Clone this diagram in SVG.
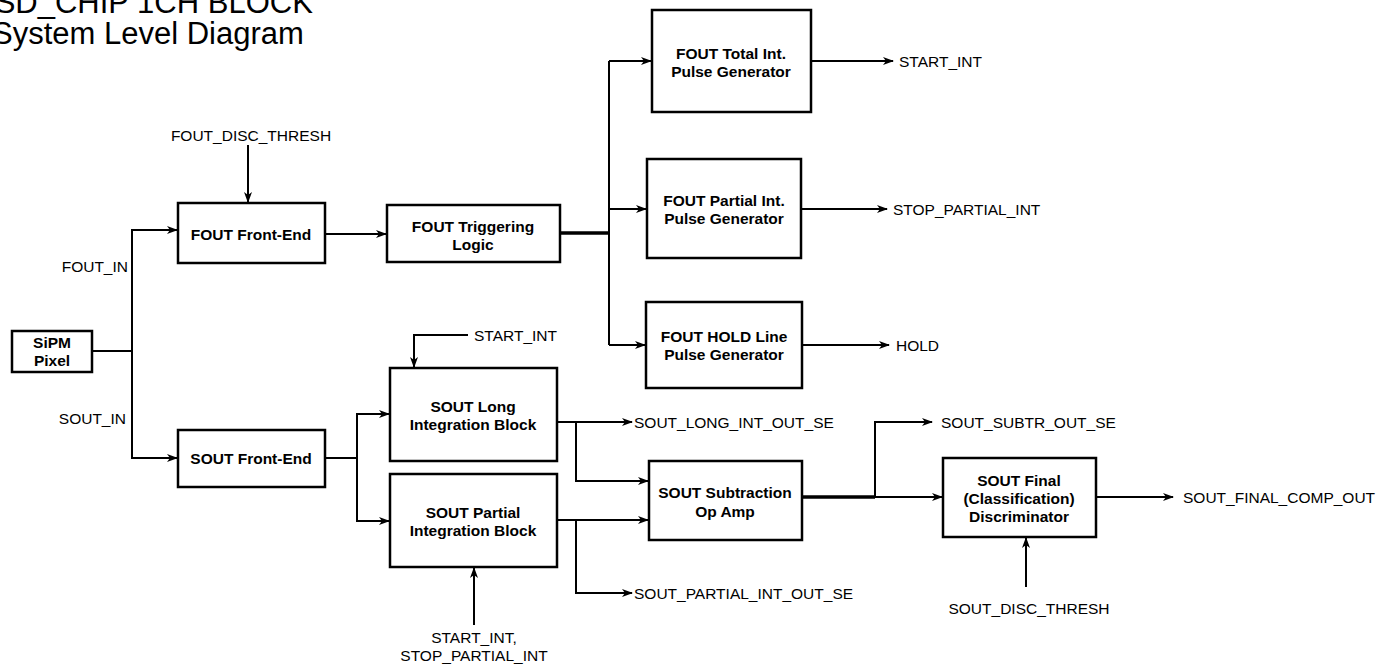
<svg xmlns="http://www.w3.org/2000/svg" width="1387" height="664" viewBox="0 0 1387 664">
<style>
.box{fill:#fff;stroke:#000;stroke-width:2.5}
.nt{font-family:"Liberation Sans",Arial,sans-serif;font-weight:bold;font-size:15.5px;text-anchor:middle;dominant-baseline:central;fill:#000}
.lb{font-family:"Liberation Sans",Arial,sans-serif;font-size:15.5px;dominant-baseline:central;fill:#000}
.ttl{font-family:"Liberation Sans",Arial,sans-serif;font-size:31px;fill:#000}
.c{fill:none;stroke:#000;stroke-width:2}
.thick{fill:none;stroke:#000;stroke-width:3.5}
</style>
<defs>
<marker id="arr" markerUnits="userSpaceOnUse" markerWidth="12" markerHeight="10" refX="10" refY="5" orient="auto">
<path d="M0,1 L11,5 L0,9 L3,5 z" fill="#000"/>
</marker>
</defs>
<rect width="1387" height="664" fill="#fff"/>
<g id="title">
<text class="ttl" x="-26" y="13">PSD_CHIP 1CH BLOCK</text>
<text class="ttl" x="-8" y="44">System Level Diagram</text>
</g>
<g id="connectors">
<path class="c" d="M92,351 H132 V230 H177" marker-end="url(#arr)"/>
<path class="c" d="M132,351 V458 H177" marker-end="url(#arr)"/>
<path class="c" d="M248,145 V202" marker-end="url(#arr)"/>
<path class="c" d="M325,234 H386" marker-end="url(#arr)"/>
<path class="thick" d="M560,233 H609"/>
<path class="c" d="M609,61 V345"/>
<path class="c" d="M609,61 H651" marker-end="url(#arr)"/>
<path class="c" d="M609,209 H646" marker-end="url(#arr)"/>
<path class="c" d="M609,345 H645" marker-end="url(#arr)"/>
<path class="c" d="M811,61 H893" marker-end="url(#arr)"/>
<path class="c" d="M801,209 H887" marker-end="url(#arr)"/>
<path class="c" d="M802,345 H889" marker-end="url(#arr)"/>
<path class="c" d="M325,458 H357 V414 H389" marker-end="url(#arr)"/>
<path class="c" d="M357,458 V521 H389" marker-end="url(#arr)"/>
<path class="c" d="M468,335 H414 V367" marker-end="url(#arr)"/>
<path class="c" d="M474,625 V568" marker-end="url(#arr)"/>
<path class="c" d="M557,422 H632" marker-end="url(#arr)"/>
<path class="c" d="M576,422 V481 H648" marker-end="url(#arr)"/>
<path class="c" d="M557,520 H648" marker-end="url(#arr)"/>
<path class="c" d="M576,520 V593 H632" marker-end="url(#arr)"/>
<path class="thick" d="M802,497 H875"/>
<path class="c" d="M875,497 H942" marker-end="url(#arr)"/>
<path class="c" d="M875,497 V422 H932" marker-end="url(#arr)"/>
<path class="c" d="M1096,497 H1173" marker-end="url(#arr)"/>
<path class="c" d="M1026,587 V538" marker-end="url(#arr)"/>
</g>
<g id="labels">
<text class="lb" x="128" y="266" text-anchor="end">FOUT_IN</text>
<text class="lb" x="126" y="418" text-anchor="end">SOUT_IN</text>
<text class="lb" x="251" y="135" text-anchor="middle">FOUT_DISC_THRESH</text>
<text class="lb" x="899" y="61">START_INT</text>
<text class="lb" x="893" y="209">STOP_PARTIAL_INT</text>
<text class="lb" x="896" y="345">HOLD</text>
<text class="lb" x="474" y="335">START_INT</text>
<text class="lb" x="474" y="637" text-anchor="middle">START_INT,</text>
<text class="lb" x="474" y="655" text-anchor="middle">STOP_PARTIAL_INT</text>
<text class="lb" x="634" y="422">SOUT_LONG_INT_OUT_SE</text>
<text class="lb" x="634" y="593">SOUT_PARTIAL_INT_OUT_SE</text>
<text class="lb" x="941" y="422">SOUT_SUBTR_OUT_SE</text>
<text class="lb" x="1183" y="497">SOUT_FINAL_COMP_OUT</text>
<text class="lb" x="1029" y="608" text-anchor="middle">SOUT_DISC_THRESH</text>
</g>
<g id="sipm">
<rect class="box" x="12" y="331" width="80" height="41"/>
<text class="nt" x="52" y="342">SiPM</text>
<text class="nt" x="52" y="360">Pixel</text>
</g>
<g id="fout-fe">
<rect class="box" x="178" y="203" width="147" height="60"/>
<text class="nt" x="251" y="234">FOUT Front-End</text>
</g>
<g id="fout-trig">
<rect class="box" x="387" y="205" width="173" height="57"/>
<text class="nt" x="473" y="226">FOUT Triggering</text>
<text class="nt" x="473" y="244">Logic</text>
</g>
<g id="fout-total">
<rect class="box" x="652" y="10" width="159" height="102"/>
<text class="nt" x="731" y="53">FOUT Total Int.</text>
<text class="nt" x="731" y="71">Pulse Generator</text>
</g>
<g id="fout-partial">
<rect class="box" x="647" y="159" width="154" height="99"/>
<text class="nt" x="724" y="200">FOUT Partial Int.</text>
<text class="nt" x="724" y="218">Pulse Generator</text>
</g>
<g id="fout-hold">
<rect class="box" x="646" y="302" width="156" height="86"/>
<text class="nt" x="724" y="336">FOUT HOLD Line</text>
<text class="nt" x="724" y="354">Pulse Generator</text>
</g>
<g id="sout-fe">
<rect class="box" x="178" y="430" width="147" height="57"/>
<text class="nt" x="251" y="458">SOUT Front-End</text>
</g>
<g id="sout-long">
<rect class="box" x="390" y="368" width="167" height="93"/>
<text class="nt" x="473" y="406">SOUT Long</text>
<text class="nt" x="473" y="424">Integration Block</text>
</g>
<g id="sout-partial">
<rect class="box" x="390" y="474" width="167" height="93"/>
<text class="nt" x="473" y="512">SOUT Partial</text>
<text class="nt" x="473" y="530">Integration Block</text>
</g>
<g id="sout-sub">
<rect class="box" x="649" y="461" width="153" height="79"/>
<text class="nt" x="725" y="492">SOUT Subtraction</text>
<text class="nt" x="725" y="511">Op Amp</text>
</g>
<g id="sout-final">
<rect class="box" x="943" y="458" width="153" height="79"/>
<text class="nt" x="1019" y="480">SOUT Final</text>
<text class="nt" x="1019" y="498">(Classification)</text>
<text class="nt" x="1019" y="516">Discriminator</text>
</g>
</svg>
